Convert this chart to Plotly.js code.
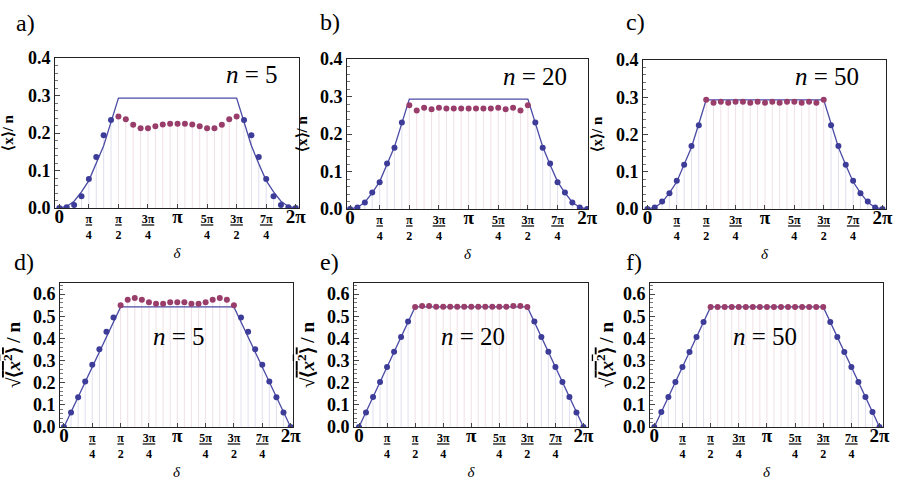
<!DOCTYPE html>
<html>
<head>
<meta charset="utf-8">
<script src="https://cdn.plot.ly/plotly-3.0.1.min.js"></script>
<style>
  body{margin:0;padding:0;background:#fff}
  #plots{width:900px;height:500px}
</style>
</head>
<body>
<div id="plots"></div>
<script>
// delta grid, k*pi/16, k=0..32
var delta=[0,0.196,0.393,0.589,0.785,0.982,1.178,1.374,1.571,1.767,1.963,2.160,2.356,2.553,2.749,2.945,3.142,
  3.338,3.534,3.731,3.927,4.123,4.320,4.516,4.712,4.909,5.105,5.301,5.498,5.694,5.890,6.087,6.283]

// points, one array per panel
var ptsA=[0.000,0.002,0.008,0.031,0.077,0.136,0.194,0.235,0.244,0.237,0.222,0.213,0.213,0.218,0.223,0.225,0.225,
  0.225,0.223,0.218,0.213,0.213,0.222,0.237,0.244,0.235,0.194,0.136,0.077,0.031,0.008,0.002,0.000]
var ptsB=[0.000,0.004,0.017,0.044,0.071,0.121,0.163,0.231,0.277,0.263,0.270,0.266,0.270,0.268,0.268,0.268,0.268,
  0.268,0.268,0.268,0.270,0.266,0.270,0.263,0.277,0.231,0.163,0.121,0.071,0.044,0.017,0.004,0.000]
var ptsC=[0.000,0.004,0.020,0.042,0.076,0.119,0.169,0.225,0.293,0.285,0.288,0.285,0.288,0.288,0.285,0.288,0.285,
  0.288,0.285,0.288,0.288,0.285,0.288,0.285,0.293,0.225,0.169,0.119,0.076,0.042,0.020,0.004,0.000]
var ptsD=[0.000,0.065,0.134,0.205,0.281,0.351,0.430,0.494,0.550,0.574,0.582,0.574,0.563,0.556,0.556,0.563,0.563,
  0.563,0.556,0.556,0.563,0.574,0.582,0.574,0.550,0.494,0.430,0.351,0.281,0.205,0.134,0.065,0.000]
var ptsE=[0.000,0.066,0.135,0.203,0.271,0.340,0.406,0.476,0.542,0.546,0.546,0.543,0.543,0.543,0.543,0.543,0.543,
  0.543,0.543,0.543,0.543,0.543,0.546,0.546,0.542,0.476,0.406,0.340,0.271,0.203,0.135,0.066,0.000]
var ptsF=[0.000,0.068,0.135,0.203,0.271,0.339,0.406,0.474,0.542,0.542,0.542,0.542,0.542,0.542,0.542,0.542,0.542,
  0.542,0.542,0.542,0.542,0.542,0.542,0.542,0.542,0.474,0.406,0.339,0.271,0.203,0.135,0.068,0.000]

// the solid curves
var lineTopX=[0,0.196,0.393,0.589,0.785,0.982,1.178,1.374,1.571,4.712,4.909,5.105,5.301,5.498,5.694,5.890,6.087,6.283]
var lineTopY=[0,0.004,0.018,0.043,0.073,0.118,0.166,0.229,0.293,0.293,0.229,0.166,0.118,0.073,0.043,0.018,0.004,0]
var lineBotX=[0,1.571,4.712,6.283]
var lineBotY=[0,0.542,0.542,0]

var nLabels=["5","20","50","5","20","50"]
var panelLetters=["a)","b)","c)","d)","e)","f)"]
var xTickVals=[0,0.785,1.571,2.356,3.142,3.927,4.712,5.498,6.283]
var xTickText=['<span style="font-size:19px">0</span>','<u>π</u><br>4','<u>π</u><br>2','<u>3π</u><br>4',
  '<span style="font-size:19px">π</span>','<u>5π</u><br>4','<u>3π</u><br>2','<u>7π</u><br>4','<span style="font-size:19px">2π</span>']

var blue="#3d3d99", maroon="#993d6b", lineCol="#4b4ba6"
var fontName="Liberation Serif"

// pixel boxes of each frame (left,right,top,bottom), x ranges, y-title gap
var panels=[
 {pts:ptsA,top:true, box:[55,299,58,208], xr:[-0.115,6.37], nPos:[252,74], gap:18},
 {pts:ptsB,top:true, box:[347,588,59,209],xr:[-0.08,6.305], nPos:[535,76], gap:8},
 {pts:ptsC,top:true, box:[643,886,60,209],xr:[-0.118,6.377],nPos:[827,76], gap:9},
 {pts:ptsD,top:false,box:[60,293,283,427],xr:[-0.11,6.35], nPos:[179,336], gap:12},
 {pts:ptsE,top:false,box:[354,588,283,427],xr:[-0.14,6.41],nPos:[473,336], gap:7},
 {pts:ptsF,top:false,box:[650,883,283,427],xr:[-0.12,6.38],nPos:[765,336], gap:4}
]
var letterPos=[[25,23],[330,22],[635,22],[24,262],[329,262],[634,262]]

var data=[]; var layout={width:900,height:500,margin:{l:0,r:0,t:0,b:0},showlegend:false,
  paper_bgcolor:"#fff",plot_bgcolor:"#fff",font:{family:fontName,color:"#000"},annotations:[]}

for (k = 0; k < panels.length; k++) {
  var p=panels[k]; var ax=(k==0)?"":String(k+1)
  var xa="x"+ax, ya="y"+ax

  // solid line
  data.push({x:p.top?lineTopX:lineBotX, y:p.top?lineTopY:lineBotY, xaxis:xa, yaxis:ya, mode:"lines", type:"scatter",
    line:{color:lineCol,width:1.3}, hoverinfo:"skip"})

  // split points: outside [pi/2,3pi/2] blue, inside maroon
  var bx=[],by=[],mx=[],my=[]
  for (j = 0; j < delta.length; j++) {
    if(j<8 || j>24){bx.push(delta[j]);by.push(p.pts[j])} else {mx.push(delta[j]);my.push(p.pts[j])}
  }
  var groups=[[bx,by,blue,"rgba(61,61,153,0.16)"],[mx,my,maroon,"rgba(153,61,107,0.16)"]]
  for (g = 0; g < groups.length; g++) {
    var gx=groups[g][0], gy=groups[g][1]
    data.push({x:gx, y:gy, xaxis:xa, yaxis:ya, mode:"markers", type:"scatter",
      marker:{color:groups[g][2],size:6},
      // drop lines down to the axis
      error_y:{type:"data",symmetric:false,array:gy.map(function(){return 0}),arrayminus:gy,
        width:0,thickness:1,color:groups[g][3]}})
  }

  var b=p.box
  layout["xaxis"+ax]={domain:[b[0]/900,b[1]/900], range:p.xr, anchor:ya,
    showline:true, mirror:true, linecolor:"#222", linewidth:1, zeroline:false, showgrid:false,
    ticks:"inside", ticklen:4, tickcolor:"#444", tickmode:"array", tickvals:xTickVals, ticktext:xTickText,
    tickfont:{family:fontName,size:12,color:"#000",weight:700},
    title:{text:"δ", font:{family:fontName,size:15,color:"#000",style:"italic"}, standoff:6}}
  layout["yaxis"+ax]={domain:[1-b[3]/500,1-b[2]/500], range:p.top?[0,0.4]:[0,0.65], anchor:xa,
    showline:true, mirror:true, linecolor:"#222", linewidth:1, zeroline:false, showgrid:false,
    ticks:"inside", ticklen:5, tickcolor:"#444", dtick:0.1, tickformat:".1f",
    minor:{dtick:0.02,ticks:"inside",ticklen:2.5,tickcolor:"#777"},
    tickfont:{family:fontName,size:18,color:"#000",weight:700},
    title:{text:p.top?"⟨x⟩/ n":'√<span style="text-decoration:overline">⟨<i>x</i><sup>2</sup>⟩</span> / n',
      font:{family:fontName,size:p.top?15:19,color:"#000",weight:700}, standoff:p.gap}}

  layout.annotations.push({xref:"paper",yref:"paper",x:p.nPos[0]/900,y:1-p.nPos[1]/500,xanchor:"center",yanchor:"middle",
    text:"<i>n</i> = "+nLabels[k],showarrow:false,font:{family:fontName,size:25,color:"#000"}})
  layout.annotations.push({xref:"paper",yref:"paper",x:letterPos[k][0]/900,y:1-letterPos[k][1]/500,xanchor:"center",yanchor:"middle",
    text:panelLetters[k],showarrow:false,font:{family:fontName,size:24,color:"#000"}})
}

Plotly.newPlot("plots",data,layout,{staticPlot:true})
</script>
</body>
</html>
